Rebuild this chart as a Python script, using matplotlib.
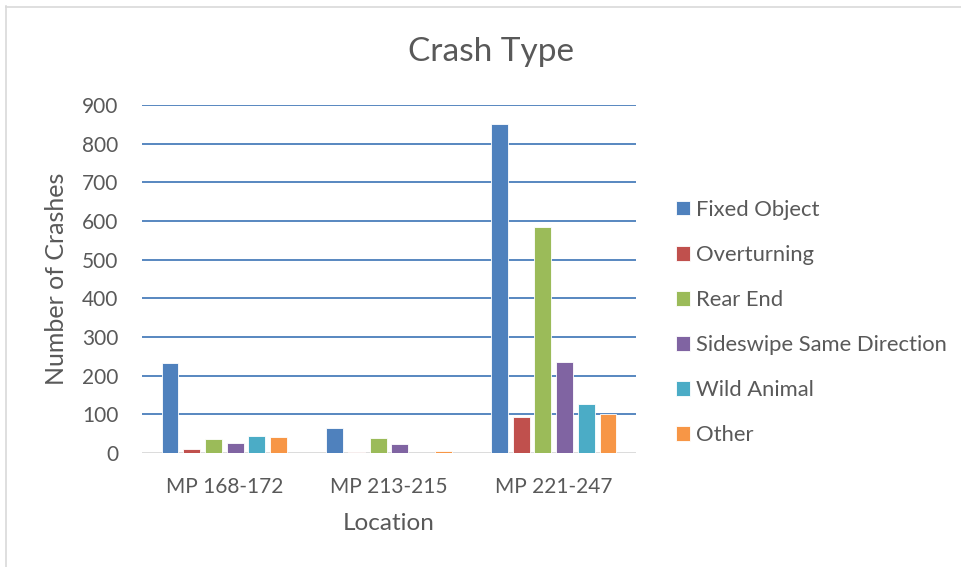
import matplotlib
matplotlib.use("Agg")
import matplotlib.pyplot as plt
from matplotlib.lines import Line2D
import numpy as np

plt.rcParams['font.family'] = ['Lato', 'DejaVu Sans']

# Dados
locations = ['MP 168-172', 'MP 213-215', 'MP 221-247']
crash_types = ['Fixed Object', 'Overturning', 'Rear End',
               'Sideswipe Same Direction', 'Wild Animal', 'Other']
fixed_object = [232, 65, 851]
overturning = [11, 2, 93]
rear_end = [37, 38, 585]
sideswipe = [26, 22, 235]
wild_animal = [43, 0, 128]
other = [41, 5, 100]

series = [fixed_object, overturning, rear_end, sideswipe, wild_animal, other]
colors = ['#4F81BD', '#C0504D', '#9BBB59', '#8064A2', '#4BACC6', '#F79646']
text_col = '#595959'

fig = plt.figure(figsize=(9.61, 5.67), dpi=100)
ax = fig.add_axes([142 / 961, 1 - 453 / 567, 494 / 961, 348 / 567])

x = np.arange(len(locations))
pitch = 0.132
width = 0.103
handles = []
for i, (vals, col) in enumerate(zip(series, colors)):
    b = ax.bar(x + (i - 2.5) * pitch, vals, width, color=col,
               edgecolor='white', linewidth=0.6, zorder=3)
    handles.append(b)

ax.set_xlim(-0.5, 2.5)
ax.set_ylim(0, 900)
ax.set_yticks(range(0, 901, 100))
ax.set_xticks(x)
ax.set_xticklabels(locations)

for v in range(100, 901, 100):
    ax.axhline(v, color='#4A7EBB', linewidth=1.3, zorder=1)
ax.axhline(0, color='#D9D9D9', linewidth=1.3, zorder=2)

for s in ax.spines.values():
    s.set_visible(False)
ax.tick_params(axis='both', length=0, labelsize=15, labelcolor=text_col)
ax.tick_params(axis='y', pad=17)
ax.tick_params(axis='x', pad=17)

ax.set_ylabel('Number of Crashes', fontsize=18, color=text_col, labelpad=10)
ax.set_xlabel('Location', fontsize=17.5, color=text_col, labelpad=12)
fig.text(491 / 961, 1 - 52 / 567, 'Crash Type', fontsize=24, color=text_col,
         ha='center', va='center')

leg = fig.legend(handles, crash_types, loc='center left',
                 bbox_to_anchor=(676 / 961, 1 - 322.5 / 567),
                 frameon=False, fontsize=15.8, labelspacing=1.14,
                 handlelength=0.64, handleheight=0.64, handletextpad=0.27,
                 borderpad=0, borderaxespad=0)
for t in leg.get_texts():
    t.set_color(text_col)

# moldura cinza do gráfico
fig.add_artist(Line2D([5.5 / 961, 5.5 / 961], [1 - 6 / 567, 0],
                      color='#D9D9D9', linewidth=1.2))
fig.add_artist(Line2D([5.5 / 961, 1], [1 - 6.5 / 567, 1 - 6.5 / 567],
                      color='#D9D9D9', linewidth=1.2))

fig.savefig('out.png', dpi=100)
